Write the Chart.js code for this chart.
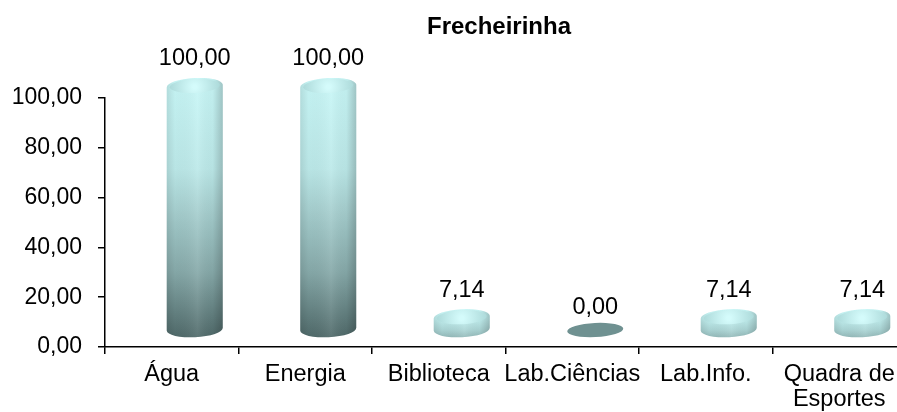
<!DOCTYPE html>
<html>
<head>
<meta charset="utf-8">
<script src="https://cdn.jsdelivr.net/npm/chart.js@4.4.1/dist/chart.umd.min.js"></script>
<style>
  html, body { margin: 0; padding: 0; background: #fff; overflow: hidden; }
  #wrap { width: 908px; height: 412px; }
</style>
</head>
<body>
<div id="wrap"><canvas id="chart"></canvas></div>
<script>
const categories = ["Água", "Energia", "Biblioteca", "Lab.Ciências", "Lab.Info.", ["Quadra de", "Esportes"]];
const values = [100, 100, 7.14, 0, 7.14, 7.14];
const yTicks = [0, 20, 40, 60, 80, 100];
const chartTitle = "Frecheirinha";

const FONT = "'Liberation Sans', Arial, sans-serif";

function fmt(v) {
  return v.toFixed(2).replace(".", ",");
}

function mix(a, b, t) {
  return a.map((c, i) => Math.round(c + (b[i] - c) * t));
}
function rgb(c) {
  return "rgb(" + c.join(",") + ")";
}

// titre placé au-dessus de la zone de tracé (comme Excel)
const titlePlugin = {
  id: "titleText",
  afterDraw(chart) {
    const ctx = chart.ctx;
    ctx.save();
    ctx.fillStyle = "#000";
    ctx.font = "bold 24px " + FONT;
    ctx.textAlign = "center";
    ctx.textBaseline = "middle";
    ctx.fillText(chartTitle, 499, 27);
    ctx.restore();
  },
};

// cylindres 3D dessinés à la place des barres
const cylinderPlugin = {
  id: "cylinders",
  afterDatasetsDraw(chart) {
    const ctx = chart.ctx;
    const meta = chart.getDatasetMeta(0);
    const dx = 23; // décalage de profondeur
    const rot = -0.05;
    const light = [200, 247, 247];
    const dark = [78, 104, 104];
    const maxH = chart.scales.y.getPixelForValue(0) - chart.scales.y.getPixelForValue(100);

    meta.data.forEach((bar, i) => {
      const cx = bar.x + dx;
      const rx = bar.width / 2;
      const ry = 8;
      const top = bar.y - 12;
      const bottom = bar.base - 17;
      ctx.save();

      if (bottom - top < 3) {
        // valeur nulle : simple disque
        ctx.beginPath();
        ctx.ellipse(cx, bottom, rx, ry - 1, rot, 0, Math.PI * 2);
        ctx.fillStyle = "#6f9191";
        ctx.fill();
      } else {
        const h = (bottom - top) / maxH;
        const botCol = mix(light, dark, 0.4 + 0.6 * h);

        const body = new Path2D();
        body.moveTo(cx - rx, top);
        body.lineTo(cx - rx, bottom);
        body.ellipse(cx, bottom, rx, ry, rot, Math.PI, 0, true);
        body.lineTo(cx + rx, top);
        body.ellipse(cx, top, rx, ry, rot, 0, Math.PI, true);
        body.closePath();

        const vg = ctx.createLinearGradient(0, top - ry, 0, bottom + ry);
        vg.addColorStop(0, rgb(light));
        vg.addColorStop(0.35, rgb(mix(light, botCol, 0.1)));
        vg.addColorStop(0.75, rgb(mix(light, botCol, 0.55)));
        vg.addColorStop(1, rgb(botCol));
        ctx.fillStyle = vg;
        ctx.fill(body);

        const hg = ctx.createLinearGradient(cx - rx, 0, cx + rx, 0);
        hg.addColorStop(0, "rgba(0,0,0,0.1)");
        hg.addColorStop(0.15, "rgba(0,0,0,0.02)");
        hg.addColorStop(0.55, "rgba(255,255,255,0.08)");
        hg.addColorStop(0.82, "rgba(0,0,0,0.03)");
        hg.addColorStop(1, "rgba(0,0,0,0.2)");
        ctx.fillStyle = hg;
        ctx.fill(body);

        // face supérieure
        const tg = ctx.createRadialGradient(cx, top + 1, 2, cx, top, rx);
        tg.addColorStop(0, "#d4fbfb");
        tg.addColorStop(1, "#a8d6d6");
        ctx.beginPath();
        ctx.ellipse(cx, top, rx - 3, ry - 1, rot, 0, Math.PI * 2);
        ctx.fillStyle = tg;
        ctx.fill();
      }

      // étiquette de valeur
      ctx.fillStyle = "#000";
      ctx.font = "23.5px " + FONT;
      ctx.textAlign = "center";
      ctx.textBaseline = "middle";
      ctx.fillText(fmt(values[i]), cx, top - ry - 19);
      ctx.restore();
    });
  },
};

new Chart(document.getElementById("chart"), {
  type: "bar",
  data: {
    labels: categories,
    datasets: [
      {
        data: values,
        backgroundColor: "rgba(0,0,0,0)",
        borderWidth: 0,
        categoryPercentage: 1,
        barPercentage: 0.42,
      },
    ],
  },
  options: {
    responsive: true,
    maintainAspectRatio: false,
    animation: false,
    layout: { padding: { left: 0, right: 2, top: 98, bottom: 0 } },
    scales: {
      x: {
        offset: true,
        grid: {
          offset: true,
          drawOnChartArea: false,
          drawTicks: true,
          tickLength: 7,
          color: "#000",
          lineWidth: 1.5,
        },
        border: { color: "#000", width: 1.5 },
        ticks: {
          color: "#000",
          padding: 8,
          maxRotation: 0,
          autoSkip: false,
          font: { family: FONT, size: 23.5, lineHeight: 1.07 },
        },
        afterFit(scale) {
          scale.height = 65;
        },
      },
      y: {
        min: 0,
        max: 100,
        grid: {
          drawOnChartArea: false,
          drawTicks: true,
          tickLength: 7,
          color: "#000",
          lineWidth: 1.5,
        },
        border: { color: "#000", width: 1.5 },
        ticks: {
          color: "#000",
          padding: 16,
          font: { family: FONT, size: 23 },
          callback: (v) => fmt(v),
        },
        afterBuildTicks(scale) {
          scale.ticks = yTicks.map((v) => ({ value: v }));
        },
        afterFit(scale) {
          scale.width = 105;
        },
      },
    },
    plugins: {
      legend: { display: false },
      tooltip: { enabled: false },
      title: { display: false },
    },
  },
  plugins: [cylinderPlugin, titlePlugin],
});
</script>
</body>
</html>
